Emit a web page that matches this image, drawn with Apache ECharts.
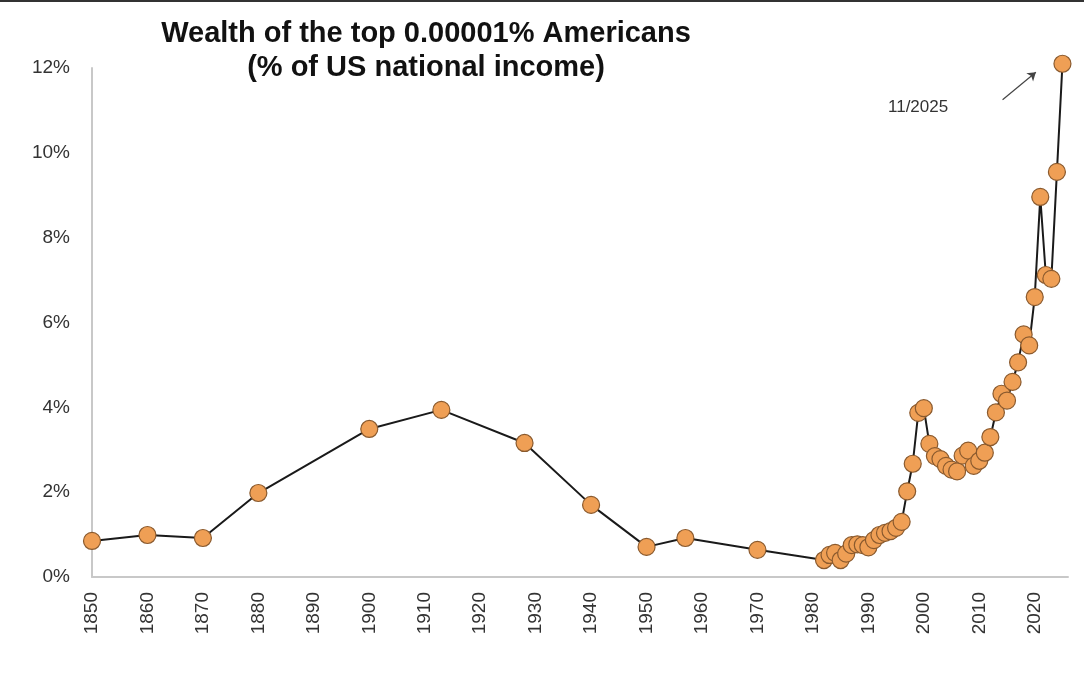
<!DOCTYPE html>
<html>
<head>
<meta charset="utf-8">
<script src="https://cdn.jsdelivr.net/npm/echarts@6/dist/echarts.min.js"></script>
<style>
    html, body {margin:0;padding:0;background:#fff;}
    #chart {width:1084px;height:692px;border-top:2px solid #333;box-sizing:border-box;}
</style>
</head>
<body>
<div id="chart"></div>
<script>
    // years and share of US national income (%)
    var years = [1850, 1860, 1870, 1880, 1900, 1913, 1928, 1940, 1950, 1957, 1970,
        1982, 1983, 1984, 1985, 1986, 1987, 1988, 1989, 1990, 1991, 1992, 1993, 1994, 1995, 1996,
        1997, 1998, 1999, 2000, 2001, 2002, 2003, 2004, 2005, 2006, 2007, 2008, 2009, 2010,
        2011, 2012, 2013, 2014, 2015, 2016, 2017, 2018, 2019, 2020, 2021, 2022, 2023, 2024, 2025];
    var wealth = [0.85, 0.99, 0.92, 1.98, 3.49, 3.94, 3.16, 1.70, 0.71, 0.92, 0.64,
        0.40, 0.52, 0.57, 0.40, 0.55, 0.75, 0.77, 0.75, 0.70, 0.87, 0.99, 1.04, 1.08, 1.16, 1.30,
        2.02, 2.67, 3.87, 3.98, 3.14, 2.85, 2.78, 2.62, 2.53, 2.49, 2.86, 2.98, 2.62, 2.74,
        2.93, 3.30, 3.88, 4.32, 4.16, 4.60, 5.06, 5.72, 5.46, 6.60, 8.96, 7.12, 7.03, 9.55, 12.10];
    var yTicks = [0, 2, 4, 6, 8, 10, 12];

    var chart = echarts.init(document.getElementById('chart'));
    var points = years.map(function (y, i) { return [y, wealth[i]]; });
    var font = 'Liberation Sans, Arial, sans-serif';

    var option = {
        animation: false,
        textStyle: {fontFamily: font},
        title: {
            text: 'Wealth of the top 0.00001% Americans\n(% of US national income)',
            left: 421,
            top: 10,
            textAlign: 'center',
            textStyle: {fontSize: 29, fontWeight: 'bold', color: '#111', lineHeight: 34, fontFamily: font}
        },
        grid: {left: 92, right: 16, top: 66, bottom: 115},
        xAxis: {
            type: 'value',
            min: 1850,
            max: 2026,
            interval: 10,
            splitLine: {show: false},
            axisTick: {show: false},
            axisLine: {lineStyle: {color: '#c8c8c8', width: 2}},
            axisLabel: {
                rotate: 90, color: '#333', fontSize: 19, margin: 15, showMaxLabel: false,
                formatter: function (v) { return String(v); }
            }
        },
        yAxis: {
            type: 'value',
            min: yTicks[0],
            max: yTicks[yTicks.length - 1],
            interval: 2,
            splitLine: {show: false},
            axisTick: {show: false},
            axisLine: {show: true, lineStyle: {color: '#c8c8c8', width: 2}},
            axisLabel: {color: '#333', fontSize: 19, margin: 22, formatter: '{value}%'}
        },
        series: [{
            type: 'line',
            data: points,
            clip: false,
            symbol: 'circle',
            symbolSize: 17,
            lineStyle: {color: '#1a1a1a', width: 2},
            itemStyle: {color: '#ef9f55', borderColor: '#8a5a2e', borderWidth: 1.2},
            markLine: {
                silent: true,
                symbol: ['none', 'arrow'],
                symbolSize: 8,
                label: {show: false},
                lineStyle: {color: '#444', width: 1.2, type: 'solid'},
                data: [[{coord: [2014.2, 11.25]}, {coord: [2020.2, 11.9]}]]
            }
        }],
        graphic: [{
            type: 'text',
            left: 888,
            top: 97,
            style: {text: '11/2025', fontSize: 17, fill: '#333', fontFamily: font}
        }]
    };
    chart.setOption(option);
    window.onresize = function () {
        chart.resize();
    };
</script>
</body>
</html>
